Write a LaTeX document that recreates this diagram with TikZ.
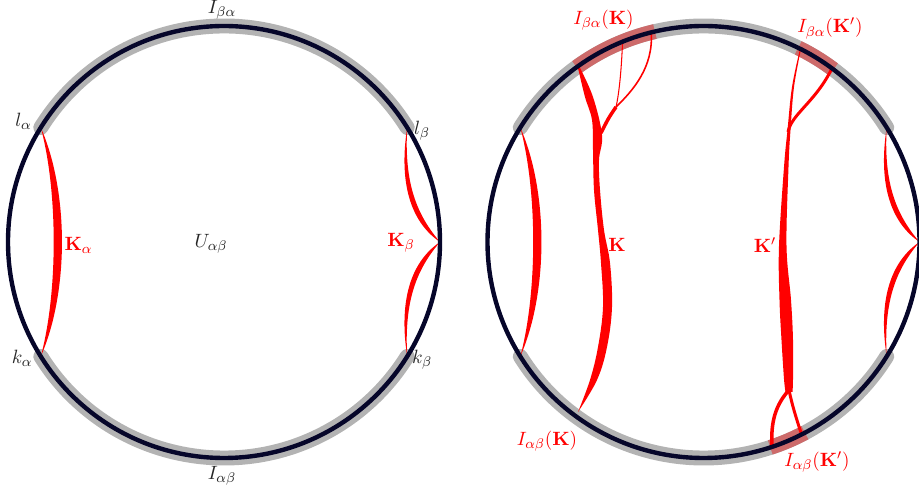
\documentclass[tikz,border=0pt]{standalone}
\usepackage{amsmath}
\usepackage{tikz}
\usetikzlibrary{calc}
\definecolor{ringblue}{HTML}{06062A}
\definecolor{bandgray}{HTML}{B3B3B3}
\definecolor{bandred}{HTML}{CD6A6A}

\begin{document}
\begin{tikzpicture}[x=0.02cm,y=0.02cm,
    ring/.style={ringblue,line width=2.5pt},
    band/.style={bandgray,line width=8.5pt,line cap=round},
    redband/.style={bandred,line width=8.5pt},
    lbl/.style={black!85,inner sep=1pt,font=\fontsize{11}{13}\selectfont},
    rlbl/.style={red,inner sep=1pt,font=\fontsize{11}{13}\selectfont}]
    \useasboundingbox (-224,-254) rectangle (695,242);
    \def\R{216}
    % gray arcs on both discs
    \foreach \cx in {0,479.5} {
      \draw[band] ($(\cx,0)+(148:\R)$) arc[start angle=148,end angle=32,radius=\R];
      \draw[band] ($(\cx,0)+(212:\R)$) arc[start angle=212,end angle=328,radius=\R];
    }
    % red parts of the arcs (right disc)
    \begin{scope}[shift={(479.5,0)}]
      \draw[redband] (126:\R) arc[start angle=126,end angle=103,radius=\R];
      \draw[redband] (64:\R) arc[start angle=64,end angle=53,radius=\R];
      \draw[redband] (-72:\R) arc[start angle=-72,end angle=-62,radius=\R];
    \end{scope}
    % K_alpha and K_beta on both discs
    \foreach \cx in {0,479.5} {
      \begin{scope}[shift={(\cx,0)}]
        \fill[red] (148:\R) .. controls (-155,50) and (-155,-50) .. (212:\R)
          .. controls (-166,-50) and (-166,50) .. (148:\R) -- cycle;
        \foreach \s in {1,-1} {
          \fill[red] (183.2,114.5*\s) .. controls (180,58*\s) and (193,27*\s) .. (216,0)
            .. controls (185,21*\s) and (175,62*\s) .. (183.2,114.5*\s) -- cycle;
        }
      \end{scope}
    }
    % K and K'
    \begin{scope}[shift={(479.5,0)}]
      \coordinate (M) at (-87.5,135);
      \coordinate (J) at (-102.5,109);
      \fill[red] plot[smooth,tension=0.6] coordinates {(-125.5,174) (-118.5,145) (-111.5,122)
          (-110.5,92) (-109.5,52) (-105.5,12) (-102.5,-21) (-100.5,-65) (-105.5,-105)
          (-113.5,-138) (-125.5,-170)}
        -- plot[smooth,tension=0.6] coordinates {(-125.5,-170) (-106.5,-138) (-96.5,-105)
          (-91.5,-65) (-93.5,-21) (-99.5,12) (-103.5,52) (-104.5,82) (-101.5,107)
          (-110.5,145) (-123.5,174)} -- cycle;
      \draw[red,line width=0.6pt] (112:\R) .. controls (-82,175) and (-84,150) .. (M);
      \draw[red,line width=0.9pt] (104:\R) .. controls (-50,175) and (-70,152) .. (M);
      \draw[red,line width=2pt] (M) .. controls (-95,124) .. (J);
      \coordinate (Jp) at (84.5,110);
      \coordinate (S) at (85.5,-148);
      \fill[red] plot[smooth,tension=0.6] coordinates {(96.5,193) (88.5,155) (84,112)
          (80.5,75) (75.5,-4) (76,-58) (78,-98) (80.5,-137) (82,-150)}
        -- plot[smooth,tension=0.6] coordinates {(89,-150) (89.5,-137) (89.5,-98)
          (87.5,-58) (83,-4) (85,75) (87,112) (90.5,155) (97.5,193)} -- cycle;
      \draw[red,line width=1.7pt] (53.5:\R) .. controls (112,140) and (88,128) .. (Jp);
      \draw[red,line width=2pt] (S) .. controls (72,-163) and (67,-180) .. (-71.5:\R);
      \draw[red,line width=1.7pt] (S) .. controls (89,-165) and (94,-180) .. (-63:\R);
    \end{scope}
    % the two circles
    \draw[ring] (0,0) circle[radius=\R];
    \draw[ring] (479.5,0) circle[radius=\R];
    % labels, left disc
    \node[lbl] (Iba) at (-2,232.5) {$I_{\beta\alpha}$};
    \node[lbl] (Iab) at (-2,-234) {$I_{\alpha\beta}$};
    \node[lbl] (la) at (-200.5,120.5) {$l_\alpha$};
    \node[lbl] (lb) at (198,111) {$l_\beta$};
    \node[lbl] (ka) at (-202,-116) {$k_\alpha$};
    \node[lbl] (kb) at (198,-117.5) {$k_\beta$};
    \node[rlbl] (Ka) at (-145.5,-3) {$\mathbf{K}_\alpha$};
    \node[lbl] (U) at (-13,-2) {$U_{\alpha\beta}$};
    \node[rlbl] (Kb) at (177,-1) {$\mathbf{K}_\beta$};
    % labels, right disc
    \node[rlbl] (IbaK) at (379.5,222) {$I_{\beta\alpha}(\mathbf{K})$};
    \node[rlbl] (IbaKp) at (606,213.5) {$I_{\beta\alpha}(\mathbf{K}')$};
    \node[rlbl] (K) at (393,-3) {$\mathbf{K}$};
    \node[rlbl] (Kp) at (541,-3) {$\mathbf{K}'$};
    \node[rlbl] (IabK) at (323,-199) {$I_{\alpha\beta}(\mathbf{K})$};
    \node[rlbl] (IabKp) at (593,-220) {$I_{\alpha\beta}(\mathbf{K}')$};
  \end{tikzpicture}
\end{document}
